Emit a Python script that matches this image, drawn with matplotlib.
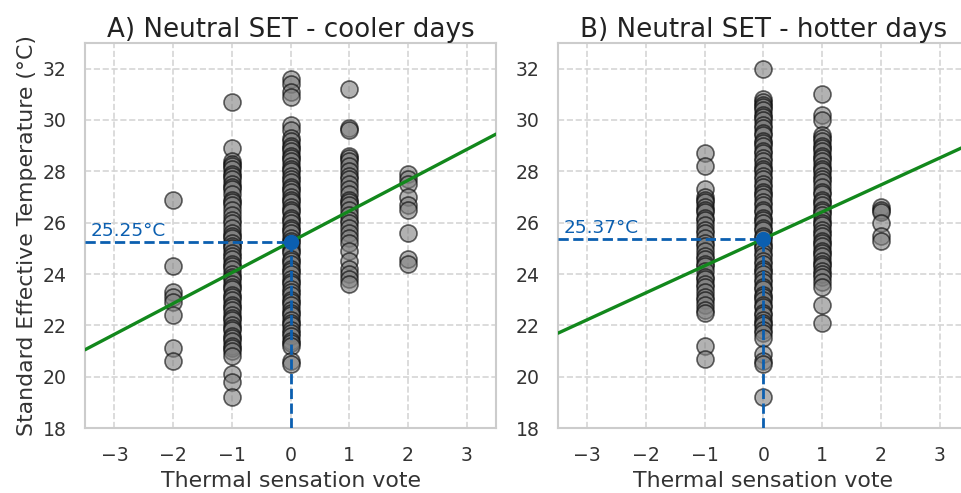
import numpy as np
import matplotlib
matplotlib.use("Agg")
import matplotlib.pyplot as plt
import seaborn as sns

# --- data (SET values per thermal sensation vote) ---
cool_m2 = [26.9, 24.3, 23.3, 23.1, 22.9, 22.4, 21.1, 20.6]
cool_m1 = [30.7, 28.9, 28.4, 28.3, 28.2, 28.1, 27.9, 27.8, 27.7, 27.5, 27.4, 27.3,
           27.1, 26.9, 26.8, 26.7, 26.5, 26.3, 26.1, 26.0, 25.8, 25.6, 25.5, 25.4,
           25.2, 25.1, 25.0, 24.8, 24.7, 24.6, 24.4, 24.3, 24.2, 24.0, 23.9, 23.8,
           23.6, 23.5, 23.4, 23.2, 23.1, 23.0, 22.8, 22.7, 22.6, 22.4, 22.3, 22.2,
           22.0, 21.9, 21.8, 21.6, 21.5, 21.4, 21.2, 21.1, 21.0, 20.8, 20.1, 19.8,
           19.2]
cool_0 = [31.6, 31.4, 31.1, 30.9, 29.8, 29.6, 29.3, 29.2, 29.0, 28.9, 28.8, 28.6,
          28.5, 28.4, 28.2, 28.1, 28.0, 27.8, 27.7, 27.6, 27.4, 27.3, 27.2, 27.0,
          26.9, 26.8, 26.6, 26.5, 26.4, 26.2, 26.1, 26.0, 25.8, 25.7, 25.6, 25.4,
          25.3, 25.2, 25.0, 24.9, 24.8, 24.6, 24.5, 24.4, 24.2, 24.1, 24.0, 23.8,
          23.7, 23.6, 23.4, 23.3, 23.2, 23.0, 22.9, 22.8, 22.6, 22.5, 22.4, 22.2,
          22.1, 22.0, 21.8, 21.7, 21.6, 21.4, 21.3, 21.2, 20.6, 20.5]
cool_p1 = [31.2, 29.7, 29.6, 28.6, 28.5, 28.4, 28.2, 28.0, 27.8, 27.7, 27.5, 27.3,
           27.1, 26.9, 26.8, 26.7, 26.5, 26.3, 26.1, 26.0, 25.8, 25.6, 25.4, 25.2,
           24.9, 24.5, 24.2, 24.0, 23.8, 23.6]
cool_p2 = [27.9, 27.7, 27.5, 27.0, 26.7, 26.5, 25.6, 24.6, 24.4]

hot_m1 = [28.7, 28.2, 27.3, 27.0, 26.9, 26.8, 26.6, 26.5, 26.4, 26.2, 26.1, 25.9,
          25.7, 25.6, 25.4, 25.2, 25.1, 24.9, 24.7, 24.6, 24.4, 24.3, 24.1, 23.9,
          23.8, 23.6, 23.5, 23.3, 23.1, 23.0, 22.8, 22.6, 22.5, 21.2, 20.7]
hot_0 = [32.0, 30.8, 30.7, 30.6, 30.5, 30.4, 30.2, 30.1, 30.0, 29.8, 29.7, 29.5,
         29.4, 29.2, 29.1, 29.0, 28.8, 28.7, 28.5, 28.4, 28.2, 28.1, 28.0, 27.8,
         27.7, 27.5, 27.4, 27.2, 27.1, 27.0, 26.8, 26.7, 26.5, 26.4, 26.2, 26.1,
         26.0, 25.8, 25.7, 25.5, 25.4, 25.2, 25.1, 25.0, 24.8, 24.7, 24.5, 24.4,
         24.2, 24.1, 24.0, 23.8, 23.7, 23.5, 23.4, 23.2, 23.1, 23.0, 22.8, 22.7,
         22.5, 22.4, 22.2, 22.1, 22.0, 21.8, 21.7, 21.5, 20.9, 20.6, 20.5, 19.2]
hot_p1 = [31.0, 30.2, 30.0, 29.4, 29.3, 29.2, 29.0, 28.9, 28.8, 28.6, 28.5, 28.4,
          28.2, 28.1, 28.0, 27.8, 27.7, 27.6, 27.4, 27.2, 27.1, 26.9, 26.8, 26.7,
          26.5, 26.4, 26.3, 26.1, 26.0, 25.9, 25.7, 25.6, 25.5, 25.3, 25.2, 25.1,
          24.9, 24.8, 24.7, 24.5, 24.4, 24.3, 24.1, 24.0, 23.9, 23.7, 23.5, 22.8,
          22.1]
hot_p2 = [26.6, 26.5, 26.4, 26.0, 25.5, 25.3]

cool_groups = {-2: cool_m2, -1: cool_m1, 0: cool_0, 1: cool_p1, 2: cool_p2}
hot_groups = {-1: hot_m1, 0: hot_0, 1: hot_p1, 2: hot_p2}

# regression: neutral SET (at vote 0) and slope
neutral = [25.25, 25.37]
slopes = [1.20, 1.05]
titles = ["A) Neutral SET - cooler days", "B) Neutral SET - hotter days"]

BLUE = "#0b5fb0"
GREEN = "#12881c"

sns.set_theme(style="whitegrid")
plt.rcParams["font.family"] = ["DejaVu Sans"]
plt.rcParams["grid.linestyle"] = "--"

fig = plt.figure(figsize=(9.62, 4.93), dpi=100)
ax1 = fig.add_axes([0.0884, 0.1318, 0.4272, 0.781])
ax2 = fig.add_axes([0.5800, 0.1318, 0.4272, 0.781])

for ax, groups, n0, k, title in zip([ax1, ax2], [cool_groups, hot_groups],
                                    neutral, slopes, titles):
    for vote, vals in groups.items():
        ax.scatter(np.full(len(vals), vote), vals, s=150, color="gray",
                   edgecolor="black", linewidth=1.2, alpha=0.6, zorder=3)
    ax.axline((0, n0), slope=k, color=GREEN, lw=2.4, zorder=4)
    ax.plot([-3.5, 0], [n0, n0], color=BLUE, ls="--", lw=2, zorder=5)
    ax.plot([0, 0], [18, n0], color=BLUE, ls="--", lw=2, zorder=5)
    ax.scatter([0], [n0], s=100, color=BLUE, zorder=6)
    ax.text(-3.4, n0 + 0.08, f"{n0:.2f}°C", color=BLUE, fontsize=13.3,
            va="bottom", ha="left")
    ax.set_xlim(-3.5, 3.5)
    ax.set_ylim(18, 33)
    ax.set_xticks(range(-3, 4))
    ax.set_yticks(range(18, 33, 2))
    ax.tick_params(labelsize=13.6, pad=7, labelcolor="#333333")
    ax.set_xlabel("Thermal sensation vote", fontsize=15.8, color="#333333")
    ax.set_title(title, fontsize=18.8, color="#222222", pad=4)
    for sp in ax.spines.values():
        sp.set_color("#cccccc")
        sp.set_linewidth(1.5)
    ax.grid(True, color="#d5d5d5", ls="--", lw=1.2)

ax1.set_ylabel("Standard Effective Temperature (°C)", fontsize=15.8,
               color="#333333")

fig.savefig("out.png", dpi=100)
